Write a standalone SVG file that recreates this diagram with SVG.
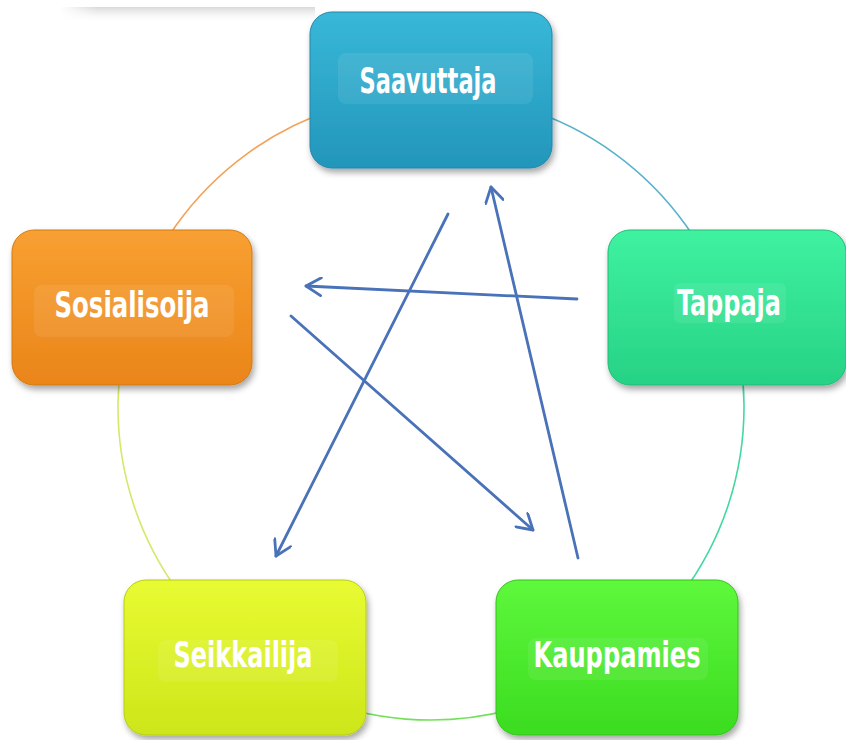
<svg xmlns="http://www.w3.org/2000/svg" width="846" height="740" viewBox="0 0 846 740">
<defs>
<style>
.lbl{font-family:"DejaVu Sans Condensed","DejaVu Sans","Liberation Sans",sans-serif;font-weight:bold;font-size:36px;fill:#ffffff;text-anchor:middle}
.arc{fill:none;stroke-width:1.6}
.conn{fill:none;stroke:#4a72b8;stroke-width:2.8;stroke-linecap:round}
.band{fill:#ffffff;fill-opacity:0.08}
</style>
<filter id="sh" x="-10%" y="-10%" width="125%" height="130%">
<feDropShadow dx="2" dy="4" stdDeviation="3" flood-color="#000" flood-opacity="0.35"/>
</filter>
<linearGradient id="gBlue" x1="0" y1="0" x2="0" y2="1"><stop offset="0" stop-color="#38b8d8"/><stop offset="1" stop-color="#2396ba"/></linearGradient>
<linearGradient id="gOrange" x1="0" y1="0" x2="0" y2="1"><stop offset="0" stop-color="#f8a032"/><stop offset="1" stop-color="#ea8519"/></linearGradient>
<linearGradient id="gTeal" x1="0" y1="0" x2="0" y2="1"><stop offset="0" stop-color="#3ef2a0"/><stop offset="1" stop-color="#27d285"/></linearGradient>
<linearGradient id="gYellow" x1="0" y1="0" x2="0" y2="1"><stop offset="0" stop-color="#e8fb32"/><stop offset="1" stop-color="#cde61a"/></linearGradient>
<linearGradient id="gGreen" x1="0" y1="0" x2="0" y2="1"><stop offset="0" stop-color="#5ef83c"/><stop offset="1" stop-color="#3bdc20"/></linearGradient>
<linearGradient id="gTop" x1="0" y1="0" x2="0" y2="1"><stop offset="0" stop-color="#d8d8d8"/><stop offset="1" stop-color="#ffffff" stop-opacity="0"/></linearGradient>
<linearGradient id="gTopH" x1="0" y1="0" x2="1" y2="0"><stop offset="0" stop-color="#fff" stop-opacity="1"/><stop offset="0.15" stop-color="#fff" stop-opacity="0"/></linearGradient>
<marker id="ah" viewBox="0 0 20 20" refX="18" refY="10" markerWidth="20" markerHeight="20" markerUnits="userSpaceOnUse" orient="auto">
<path d="M3,1 L18,10 L3,19" fill="none" stroke="#4a72b8" stroke-width="2.8" stroke-linecap="round" stroke-linejoin="round"/>
</marker>
</defs>
<rect width="846" height="740" fill="#ffffff"/>
<rect x="60" y="7" width="255" height="16" fill="url(#gTop)"/>
<rect x="60" y="7" width="255" height="16" fill="url(#gTopH)"/>
<g id="ring">
<path class="arc" stroke="#5ab2cc" d="M431,94 A313,313 0 0 1 728.7,310.3"/>
<path class="arc" stroke="#44d8a0" d="M728.7,310.3 A313,313 0 0 1 615,660.2"/>
<path class="arc" stroke="#72e25a" d="M615,660.2 A313,313 0 0 1 247,660.2"/>
<path class="arc" stroke="#d2ea6a" d="M247,660.2 A313,313 0 0 1 133.3,310.3"/>
<path class="arc" stroke="#f2a25a" d="M133.3,310.3 A313,313 0 0 1 431,94"/>
</g>
<g id="connectors">
<line class="conn" x1="577" y1="299" x2="306" y2="286" marker-end="url(#ah)"/>
<line class="conn" x1="291" y1="316" x2="533" y2="530" marker-end="url(#ah)"/>
<line class="conn" x1="448" y1="214" x2="276" y2="556" marker-end="url(#ah)"/>
<line class="conn" x1="578" y1="558" x2="491" y2="187" marker-end="url(#ah)"/>
</g>
<g id="node-saavuttaja">
<rect x="310" y="12" width="242" height="156" rx="22" fill="url(#gBlue)" stroke="#2286a8" stroke-width="1" filter="url(#sh)"/>
<rect class="band" x="338" y="53" width="195" height="51" rx="8"/>
<text class="lbl" x="428" y="93" textLength="137" lengthAdjust="spacingAndGlyphs">Saavuttaja</text>
</g>
<g id="node-sosialisoija">
<rect x="12" y="230" width="240" height="155" rx="22" fill="url(#gOrange)" stroke="#d27812" stroke-width="1" filter="url(#sh)"/>
<rect class="band" x="34" y="285" width="200" height="52" rx="8"/>
<text class="lbl" x="132" y="317" textLength="155" lengthAdjust="spacingAndGlyphs">Sosialisoija</text>
</g>
<g id="node-tappaja">
<rect x="608" y="230" width="238" height="155" rx="22" fill="url(#gTeal)" stroke="#22ba76" stroke-width="1" filter="url(#sh)"/>
<rect class="band" x="674" y="283" width="112" height="40" rx="6"/>
<text class="lbl" x="729" y="315" textLength="104" lengthAdjust="spacingAndGlyphs">Tappaja</text>
</g>
<g id="node-seikkailija">
<rect x="124" y="580" width="242" height="155" rx="22" fill="url(#gYellow)" stroke="#b6cc16" stroke-width="1" filter="url(#sh)"/>
<rect class="band" x="158" y="640" width="180" height="42" rx="8"/>
<text class="lbl" x="243" y="667" textLength="139" lengthAdjust="spacingAndGlyphs">Seikkailija</text>
</g>
<g id="node-kauppamies">
<rect x="496" y="580" width="242" height="155" rx="22" fill="url(#gGreen)" stroke="#34c21c" stroke-width="1" filter="url(#sh)"/>
<rect class="band" x="528" y="638" width="180" height="42" rx="8"/>
<text class="lbl" x="617" y="667" textLength="167" lengthAdjust="spacingAndGlyphs">Kauppamies</text>
</g>
</svg>
